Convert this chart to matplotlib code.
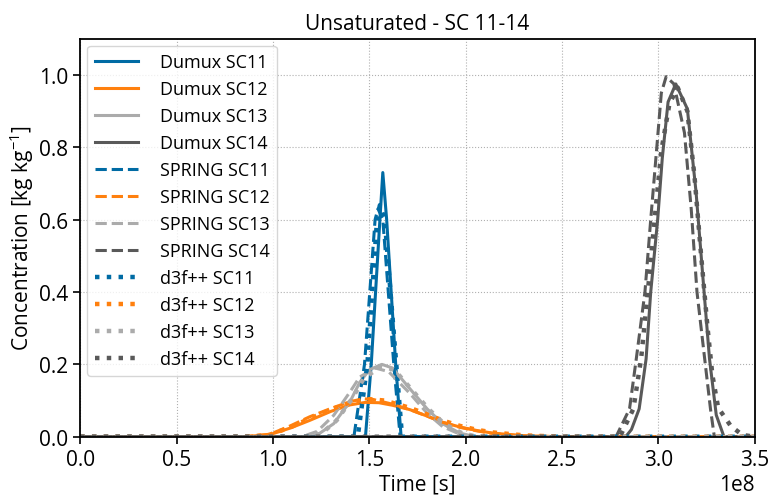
import numpy as np
import matplotlib.pyplot as plt

plt.rcParams['font.family'] = ['Open Sans', 'DejaVu Sans']
plt.rcParams['mathtext.default'] = 'regular'
plt.rcParams['font.size'] = 12

# colours (tableau colorblind)
c11, c12, c13, c14 = '#006BA4', '#FF800E', '#ABABAB', '#595959'

# time in units of 1e8 s, concentration in kg/kg
# --- Dumux ---
t_dumux_11 = [0, 1.48, 1.51, 1.555, 1.57, 1.59, 1.637, 1.665, 3.5]
c_dumux_11 = [0, 0, 0.2, 0.6, 0.73, 0.6, 0.2, 0, 0]
t_dumux_12 = [0, 0.85, 0.985, 1.09, 1.19, 1.30, 1.40, 1.48, 1.55, 1.62, 1.71,
              1.80, 1.88, 1.97, 2.06, 2.14, 2.30, 2.50, 3.5]
c_dumux_12 = [0, 0, 0.006, 0.024, 0.045, 0.070, 0.088, 0.095, 0.094, 0.087, 0.075,
              0.057, 0.040, 0.027, 0.017, 0.010, 0.003, 0, 0]
t_dumux_13 = [0, 1.18, 1.23, 1.315, 1.40, 1.45, 1.50, 1.565, 1.62, 1.71, 1.80,
              1.88, 1.97, 2.05, 3.5]
c_dumux_13 = [0, 0, 0.005, 0.036, 0.097, 0.15, 0.185, 0.2, 0.19, 0.133, 0.077,
              0.036, 0.01, 0, 0]
t_dumux_14 = [0, 2.83, 2.86, 2.90, 2.936, 2.96, 2.996, 3.02, 3.05, 3.09, 3.15,
              3.195, 3.23, 3.265, 3.30, 3.34, 3.5]
c_dumux_14 = [0, 0, 0.02, 0.077, 0.215, 0.40, 0.60, 0.77, 0.925, 0.975, 0.906,
              0.677, 0.445, 0.215, 0.06, 0, 0]

# --- SPRING ---
t_spring_11 = [0, 1.42, 1.475, 1.53, 1.545, 1.57, 1.627, 1.66, 3.5]
c_spring_11 = [0, 0, 0.2, 0.6, 0.63, 0.6, 0.2, 0, 0]
t_spring_12 = [0, 0.85, 0.985, 1.09, 1.19, 1.295, 1.40, 1.47, 1.52, 1.62, 1.71,
               1.80, 1.88, 1.97, 2.06, 2.14, 2.30, 2.50, 3.5]
c_spring_12 = [0, 0, 0.007, 0.030, 0.055, 0.077, 0.097, 0.105, 0.103, 0.090, 0.075,
               0.057, 0.040, 0.026, 0.016, 0.009, 0.002, 0, 0]
t_spring_13 = [0, 1.15, 1.23, 1.315, 1.40, 1.45, 1.53, 1.60, 1.71, 1.80, 1.88,
               1.97, 2.03, 3.5]
c_spring_13 = [0, 0, 0.015, 0.059, 0.124, 0.165, 0.19, 0.18, 0.12, 0.065, 0.028,
               0.007, 0, 0]
t_spring_14 = [0, 2.78, 2.85, 2.885, 2.93, 2.96, 2.99, 3.015, 3.04, 3.08, 3.135,
               3.17, 3.20, 3.24, 3.27, 3.29, 3.5]
c_spring_14 = [0, 0, 0.077, 0.215, 0.40, 0.60, 0.79, 0.95, 0.995, 0.975, 0.84,
               0.63, 0.40, 0.215, 0.077, 0, 0]

# --- d3f++ ---
t_d3f_11 = [0, 1.44, 1.49, 1.54, 1.555, 1.58, 1.64, 1.67, 3.5]
c_d3f_11 = [0, 0, 0.2, 0.6, 0.64, 0.6, 0.2, 0, 0]
t_d3f_12 = [0, 0.85, 0.98, 1.09, 1.19, 1.30, 1.40, 1.50, 1.58, 1.71, 1.80,
            1.88, 1.97, 2.06, 2.14, 2.30, 2.50, 3.5]
c_d3f_12 = [0, 0, 0.005, 0.026, 0.05, 0.075, 0.095, 0.104, 0.1, 0.08, 0.062,
            0.045, 0.03, 0.019, 0.012, 0.004, 0, 0]
t_d3f_13 = [0, 1.18, 1.25, 1.33, 1.41, 1.47, 1.56, 1.63, 1.72, 1.81, 1.89,
            1.98, 2.06, 3.5]
c_d3f_13 = [0, 0, 0.008, 0.045, 0.105, 0.16, 0.195, 0.185, 0.13, 0.075, 0.035,
            0.01, 0, 0]
t_d3f_14 = [0, 2.80, 2.87, 2.91, 2.945, 2.98, 3.015, 3.057, 3.10, 3.15, 3.187,
            3.22, 3.255, 3.28, 3.31, 3.375, 3.435, 3.5]
c_d3f_14 = [0, 0, 0.077, 0.215, 0.40, 0.60, 0.79, 0.92, 0.965, 0.90, 0.72,
            0.51, 0.30, 0.17, 0.08, 0.03, 0.005, 0]

series = [
    ('Dumux SC11', t_dumux_11, c_dumux_11, c11, '-'),
    ('Dumux SC12', t_dumux_12, c_dumux_12, c12, '-'),
    ('Dumux SC13', t_dumux_13, c_dumux_13, c13, '-'),
    ('Dumux SC14', t_dumux_14, c_dumux_14, c14, '-'),
    ('SPRING SC11', t_spring_11, c_spring_11, c11, '--'),
    ('SPRING SC12', t_spring_12, c_spring_12, c12, '--'),
    ('SPRING SC13', t_spring_13, c_spring_13, c13, '--'),
    ('SPRING SC14', t_spring_14, c_spring_14, c14, '--'),
    ('d3f++ SC11', t_d3f_11, c_d3f_11, c11, ':'),
    ('d3f++ SC12', t_d3f_12, c_d3f_12, c12, ':'),
    ('d3f++ SC13', t_d3f_13, c_d3f_13, c13, ':'),
    ('d3f++ SC14', t_d3f_14, c_d3f_14, c14, ':'),
]

fig = plt.figure(figsize=(7.71, 5.02), dpi=100)
ax = fig.add_axes([0.104, 0.128, 0.875, 0.793])

for label, t, c, col, ls in series:
    lw = 3.2 if ls == ':' else 2.2
    ax.plot(np.array(t) * 1e8, c, color=col, linestyle=ls, linewidth=lw, label=label)

ax.set_xlim(0, 3.5e8)
ax.set_ylim(0, 1.1)
ax.set_xticks(np.arange(0, 3.51e8, 0.5e8))
ax.set_yticks(np.arange(0, 1.01, 0.2))
ax.grid(True, linestyle=':', color='#b0b0b0', linewidth=0.8)
for s in ax.spines.values():
    s.set_linewidth(1.3)
ax.tick_params(direction='out', length=5, width=1.2, labelsize=15)
ax.xaxis.get_offset_text().set_fontsize(15)

ax.set_title('Unsaturated - SC 11-14', fontsize=15, pad=7)
ax.set_xlabel('Time [s]', fontsize=15, labelpad=3)
ax.set_ylabel('Concentration [kg kg$^{-1}$]', fontsize=15, labelpad=2)
ax.legend(loc='upper left', fontsize=13, handlelength=2.4, labelspacing=0.5,
          handletextpad=1.2, borderaxespad=0.4)

fig.savefig('out.png', dpi=100)
